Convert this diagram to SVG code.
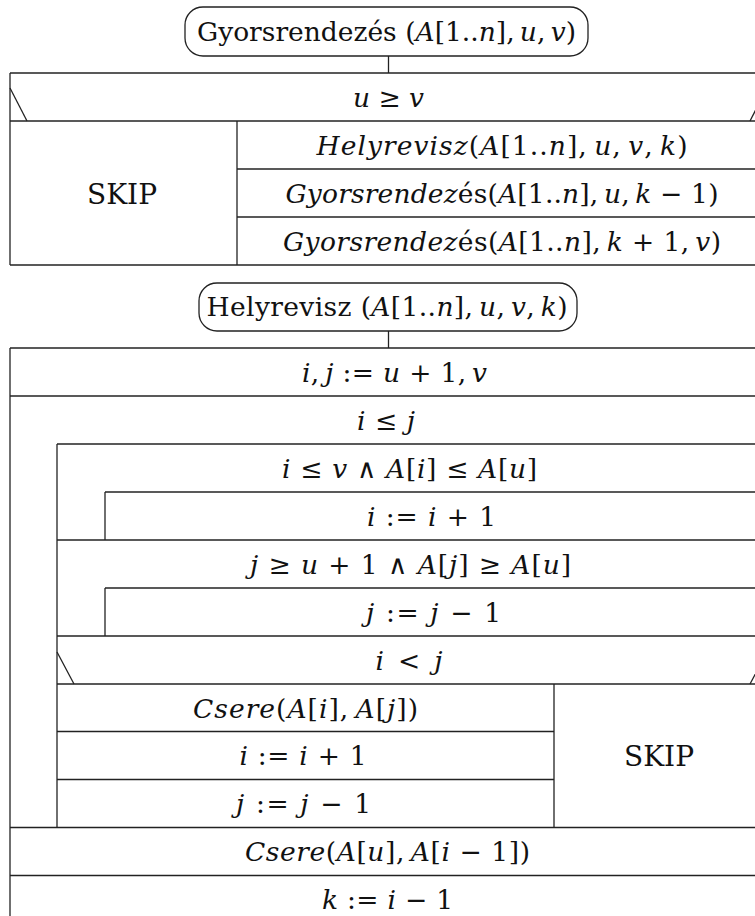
<svg xmlns="http://www.w3.org/2000/svg" width="755" height="916" viewBox="0 0 755 916">
<style>
.ln{stroke:#222;stroke-width:1.3;fill:none}
.bx{stroke:#222;stroke-width:1.3;fill:#fff}
.t{font-family:"DejaVu Serif",serif;font-size:26.5px;fill:#111;text-anchor:middle}
.sk{font-size:28px}
.i{font-style:italic}
</style>
<rect width="755" height="916" fill="#fff"/>
<g id="connectors">
<line class="ln" x1="388.5" y1="56" x2="388.5" y2="73"/>
<line class="ln" x1="388.5" y1="331" x2="388.5" y2="348"/>
</g>
<g id="start-gyorsrendezes">
<rect class="bx" x="185" y="7" width="403" height="49" rx="18"/>
<text class="t" x="386.5" y="41" textLength="379" lengthAdjust="spacing">Gyorsrendezés (<tspan class="i">A</tspan>[1..<tspan class="i">n</tspan>],&#8201;<tspan class="i">u</tspan>,&#8201;<tspan class="i">v</tspan>)</text>
</g>
<g id="if-u-ge-v">
<line class="ln" x1="10" y1="73" x2="767" y2="73"/>
<line class="ln" x1="10" y1="121" x2="767" y2="121"/>
<line class="ln" x1="10" y1="73" x2="10" y2="265"/>
<line class="ln" x1="10" y1="88" x2="27" y2="121"/>
<line class="ln" x1="767" y1="88" x2="750" y2="121"/>
<text class="t" x="388.5" y="107" textLength="71" lengthAdjust="spacing"><tspan class="i">u</tspan> ≥ <tspan class="i">v</tspan></text>
</g>
<g id="skip-1">
<line class="ln" x1="237" y1="121" x2="237" y2="265"/>
<text class="t sk" x="122" y="203.5">SKIP</text>
</g>
<g id="call-helyrevisz">
<text class="t" x="502" y="155" textLength="371" lengthAdjust="spacing"><tspan class="i">Helyrevisz</tspan>(<tspan class="i">A</tspan>[1..<tspan class="i">n</tspan>],&#8201;<tspan class="i">u</tspan>,&#8201;<tspan class="i">v</tspan>,&#8201;<tspan class="i">k</tspan>)</text>
<line class="ln" x1="237" y1="169" x2="767" y2="169"/>
</g>
<g id="call-gyors-left">
<text class="t" x="502" y="203" textLength="433" lengthAdjust="spacing"><tspan class="i">Gyorsrendez</tspan>és(<tspan class="i">A</tspan>[1..<tspan class="i">n</tspan>],&#8201;<tspan class="i">u</tspan>,&#8201;<tspan class="i">k</tspan> − 1)</text>
<line class="ln" x1="237" y1="217" x2="767" y2="217"/>
</g>
<g id="call-gyors-right">
<text class="t" x="502" y="251" textLength="438" lengthAdjust="spacing"><tspan class="i">Gyorsrendez</tspan>és(<tspan class="i">A</tspan>[1..<tspan class="i">n</tspan>],&#8201;<tspan class="i">k</tspan> + 1,&#8201;<tspan class="i">v</tspan>)</text>
<line class="ln" x1="10" y1="265" x2="767" y2="265"/>
</g>
<g id="start-helyrevisz">
<rect class="bx" x="199" y="283" width="378" height="48" rx="18"/>
<text class="t" x="387" y="316" textLength="361" lengthAdjust="spacing">Helyrevisz (<tspan class="i">A</tspan>[1..<tspan class="i">n</tspan>],&#8201;<tspan class="i">u</tspan>,&#8201;<tspan class="i">v</tspan>,&#8201;<tspan class="i">k</tspan>)</text>
</g>
<g id="init-ij">
<line class="ln" x1="10" y1="348" x2="767" y2="348"/>
<line class="ln" x1="10" y1="348" x2="10" y2="916"/>
<text class="t" x="394.5" y="381.5" textLength="185" lengthAdjust="spacing"><tspan class="i">i</tspan>,&#8201;<tspan class="i">j</tspan> := <tspan class="i">u</tspan> + 1,&#8201;<tspan class="i">v</tspan></text>
</g>
<g id="loop-i-le-j">
<line class="ln" x1="10" y1="396" x2="767" y2="396"/>
<text class="t" x="386" y="429.5" textLength="58" lengthAdjust="spacing"><tspan class="i">i</tspan> ≤ <tspan class="i">j</tspan></text>
<line class="ln" x1="57" y1="444" x2="57" y2="827.5"/>
</g>
<g id="loop-i-inc">
<line class="ln" x1="57" y1="444" x2="767" y2="444"/>
<text class="t" x="409.5" y="477.5" textLength="255" lengthAdjust="spacing"><tspan class="i">i</tspan> ≤ <tspan class="i">v</tspan> ∧ <tspan class="i">A</tspan>[<tspan class="i">i</tspan>] ≤ <tspan class="i">A</tspan>[<tspan class="i">u</tspan>]</text>
<line class="ln" x1="105" y1="492" x2="105" y2="540"/>
</g>
<g id="i-plus-1">
<line class="ln" x1="105" y1="492" x2="767" y2="492"/>
<text class="t" x="431.5" y="525.5" textLength="129" lengthAdjust="spacing"><tspan class="i">i</tspan> := <tspan class="i">i</tspan> + 1</text>
</g>
<g id="loop-j-dec">
<line class="ln" x1="57" y1="540" x2="767" y2="540"/>
<text class="t" x="410.5" y="573.5" textLength="321" lengthAdjust="spacing"><tspan class="i">j</tspan> ≥ <tspan class="i">u</tspan> + 1 ∧ <tspan class="i">A</tspan>[<tspan class="i">j</tspan>] ≥ <tspan class="i">A</tspan>[<tspan class="i">u</tspan>]</text>
<line class="ln" x1="105" y1="588" x2="105" y2="636"/>
</g>
<g id="j-minus-1">
<line class="ln" x1="105" y1="588" x2="767" y2="588"/>
<text class="t" x="433.5" y="621.5" textLength="135" lengthAdjust="spacing"><tspan class="i">j</tspan> := <tspan class="i">j</tspan> − 1</text>
</g>
<g id="if-i-lt-j">
<line class="ln" x1="57" y1="636" x2="767" y2="636"/>
<line class="ln" x1="57" y1="684" x2="767" y2="684"/>
<line class="ln" x1="57" y1="652" x2="74" y2="684"/>
<line class="ln" x1="767" y1="652" x2="750" y2="684"/>
<text class="t" x="409" y="669.5" textLength="67" lengthAdjust="spacing"><tspan class="i">i</tspan> &lt; <tspan class="i">j</tspan></text>
</g>
<g id="csere-ij">
<text class="t" x="305.5" y="717.5" textLength="225" lengthAdjust="spacing"><tspan class="i">Csere</tspan>(<tspan class="i">A</tspan>[<tspan class="i">i</tspan>],&#8201;<tspan class="i">A</tspan>[<tspan class="i">j</tspan>])</text>
<line class="ln" x1="57" y1="731.5" x2="554" y2="731.5"/>
</g>
<g id="i-plus-1-b">
<text class="t" x="303" y="765" textLength="127" lengthAdjust="spacing"><tspan class="i">i</tspan> := <tspan class="i">i</tspan> + 1</text>
<line class="ln" x1="57" y1="779.5" x2="554" y2="779.5"/>
</g>
<g id="j-minus-1-b">
<text class="t" x="303.5" y="813" textLength="135" lengthAdjust="spacing"><tspan class="i">j</tspan> := <tspan class="i">j</tspan> − 1</text>
</g>
<g id="skip-2">
<line class="ln" x1="554" y1="684" x2="554" y2="827.5"/>
<text class="t sk" x="659" y="766">SKIP</text>
</g>
<g id="csere-u">
<line class="ln" x1="10" y1="827.5" x2="767" y2="827.5"/>
<text class="t" x="387.5" y="861" textLength="285" lengthAdjust="spacing"><tspan class="i">Csere</tspan>(<tspan class="i">A</tspan>[<tspan class="i">u</tspan>],&#8201;<tspan class="i">A</tspan>[<tspan class="i">i</tspan> − 1])</text>
</g>
<g id="k-assign">
<line class="ln" x1="10" y1="875.5" x2="767" y2="875.5"/>
<text class="t" x="387.5" y="909" textLength="131" lengthAdjust="spacing"><tspan class="i">k</tspan> := <tspan class="i">i</tspan> − 1</text>
</g>
</svg>
